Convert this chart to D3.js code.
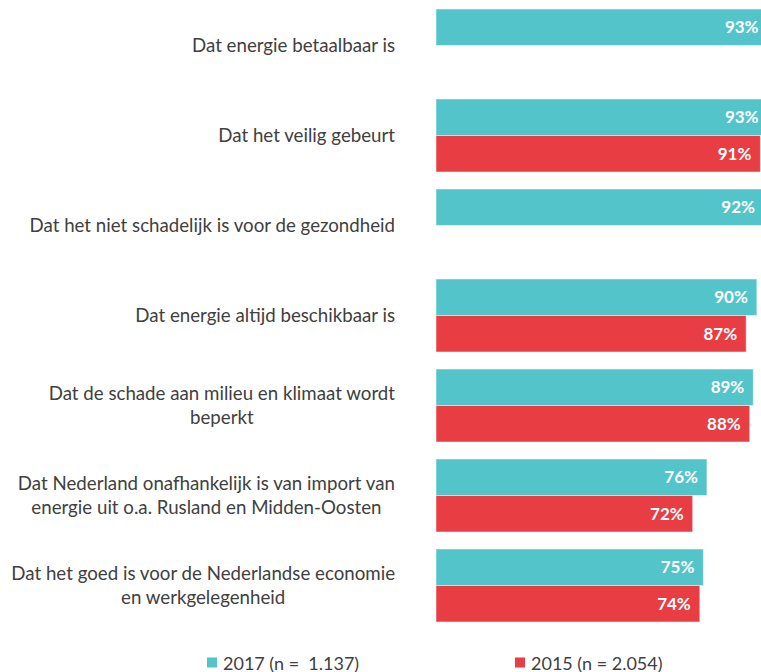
<!DOCTYPE html>
<html>
<head>
<meta charset="utf-8">
<script src="https://cdnjs.cloudflare.com/ajax/libs/d3/7.8.5/d3.min.js"></script>
<style>
  body { margin: 0; background: #fff; }
  svg { font-family: Lato, "Open Sans", sans-serif; }
</style>
</head>
<body>
<div id="vis"></div>
<script>
// constants for the frame
const FRAME_WIDTH = 761;
const FRAME_HEIGHT = 672;

// data
const CATEGORIES = [
  ["Dat energie betaalbaar is"],
  ["Dat het veilig gebeurt"],
  ["Dat het niet schadelijk is voor de gezondheid"],
  ["Dat energie altijd beschikbaar is"],
  ["Dat de schade aan milieu en klimaat wordt", "beperkt"],
  ["Dat Nederland onafhankelijk is van import van", "energie uit o.a. Rusland en Midden-Oosten"],
  ["Dat het goed is voor de Nederlandse economie", "en werkgelegenheid"]
];
const SERIES = ["2017", "2015"];
const LEGEND_LABELS = ["2017 (n =  1.137)", "2015 (n = 2.054)"];
const VALUES_2017 = [93, 93, 92, 90, 89, 76, 75];
const VALUES_2015 = [null, 91, null, 87, 88, 72, 74];

const COLORS = d3.scaleOrdinal()
  .domain(SERIES)
  .range(["#53c4ca", "#e73d43"]);

// build rows
const ROWS = [];
CATEGORIES.forEach((c, i) => {
  ROWS.push({cat: i, series: "2017", value: VALUES_2017[i]});
  if (VALUES_2015[i] !== null) {
    ROWS.push({cat: i, series: "2015", value: VALUES_2015[i]});
  }
});

const FRAME = d3.select("#vis")
  .append("svg")
  .attr("width", FRAME_WIDTH)
  .attr("height", FRAME_HEIGHT);

// scales
const X_SCALE = d3.scaleLinear()
  .domain([0, 100])
  .range([436, 792.5]);

const Y_SCALE = d3.scaleBand()
  .domain(d3.range(CATEGORIES.length))
  .range([9, 9 + 90 * CATEGORIES.length - 17])
  .paddingInner(17 / 90)
  .paddingOuter(0)
  .align(0);

const Y_INNER = d3.scaleBand()
  .domain(SERIES)
  .range([0, Y_SCALE.bandwidth()])
  .padding(0);

// bars
FRAME.selectAll(".bar")
  .data(ROWS)
  .enter()
  .append("rect")
  .attr("class", "bar")
  .attr("x", X_SCALE(0))
  .attr("y", (d) => { return Y_SCALE(d.cat) + Y_INNER(d.series); })
  .attr("width", (d) => { return X_SCALE(d.value) - X_SCALE(0); })
  .attr("height", Y_INNER.bandwidth())
  .attr("fill", (d) => { return COLORS(d.series); })
  .attr("stroke", "#ffffff")
  .attr("stroke-opacity", 0.5)
  .attr("stroke-width", 1);

// value labels
FRAME.selectAll(".val")
  .data(ROWS)
  .enter()
  .append("text")
  .attr("class", "val")
  .attr("x", (d) => { return X_SCALE(d.value) - 9; })
  .attr("y", (d) => { return Y_SCALE(d.cat) + Y_INNER(d.series) + Y_INNER.bandwidth() / 2; })
  .attr("dy", "0.36em")
  .attr("text-anchor", "end")
  .attr("fill", "#ffffff")
  .attr("font-weight", "bold")
  .attr("font-size", "17px")
  .text((d) => { return d.value + "%"; });

// category labels, block right aligned, lines centred
const LABEL_RIGHT = 395;
const LINE_H = 24;
CATEGORIES.forEach((lines, i) => {
  const g = FRAME.append("g");
  const cy = Y_SCALE(i) + Y_SCALE.bandwidth() / 2;
  const texts = g.selectAll("text")
    .data(lines)
    .enter()
    .append("text")
    .attr("y", (d, j) => { return cy + (j - (lines.length - 1) / 2) * LINE_H; })
    .attr("dy", "0.35em")
    .attr("text-anchor", "middle")
    .attr("fill", "#404040")
    .attr("font-size", "18.7px")
    .text((d) => { return d; });
  let maxW = 0;
  texts.each(function() { maxW = Math.max(maxW, this.getComputedTextLength()); });
  texts.attr("x", LABEL_RIGHT - maxW / 2);
});

// legend
const LEGEND_X = [207, 515];
SERIES.forEach((s, i) => {
  FRAME.append("rect")
    .attr("x", LEGEND_X[i])
    .attr("y", 657.5)
    .attr("width", 10)
    .attr("height", 10)
    .attr("fill", COLORS(s));
  FRAME.append("text")
    .attr("x", LEGEND_X[i] + 16)
    .attr("y", 669.5)
    .attr("fill", "#404040")
    .attr("font-size", "18px")
    .style("white-space", "pre")
    .text(LEGEND_LABELS[i]);
});
</script>
</body>
</html>
